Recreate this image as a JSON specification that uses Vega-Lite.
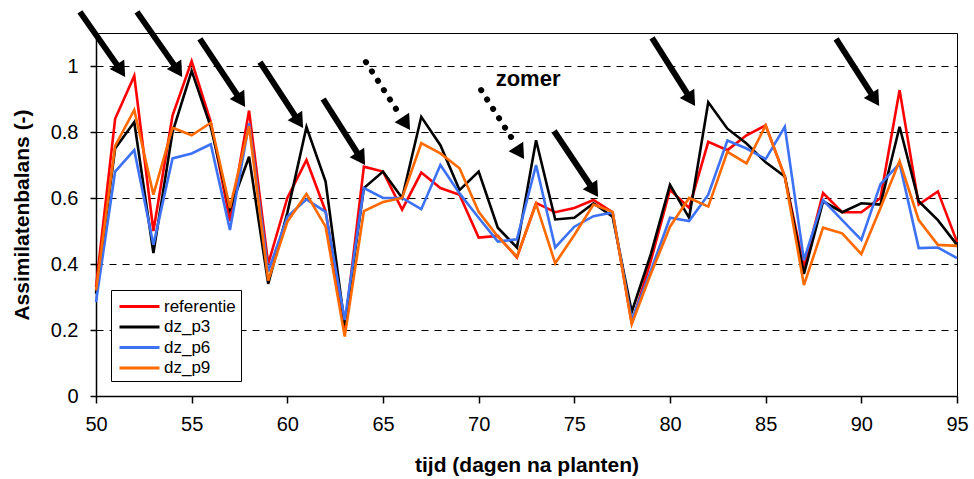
{
  "$schema": "https://vega.github.io/schema/vega-lite/v6.json",
  "width": 861,
  "height": 363,
  "autosize": {"type": "none"},
  "padding": {"left": 96, "top": 33, "right": 17, "bottom": 83},
  "config": {
    "font": "Liberation Sans",
    "view": {"stroke": "#000000", "strokeWidth": 1},
    "axis": {
      "domainColor": "#000000",
      "domainWidth": 1.5,
      "tickColor": "#000000",
      "tickWidth": 1.5,
      "labelColor": "#000000",
      "titleColor": "#000000",
      "labelFont": "Liberation Sans",
      "titleFont": "Liberation Sans",
      "labelFontSize": 20,
      "titleFontSize": 21,
      "titleFontWeight": "bold"
    },
    "legend": {
      "labelFont": "Liberation Sans",
      "labelFontSize": 17,
      "labelColor": "#000000"
    }
  },
  "datasets": {
    "series": [
      {"x": 50, "referentie": 0.33, "dz_p3": 0.31, "dz_p6": 0.285, "dz_p9": 0.32},
      {"x": 51, "referentie": 0.84, "dz_p3": 0.75, "dz_p6": 0.68, "dz_p9": 0.758},
      {"x": 52, "referentie": 0.97, "dz_p3": 0.83, "dz_p6": 0.745, "dz_p9": 0.867},
      {"x": 53, "referentie": 0.5, "dz_p3": 0.433, "dz_p6": 0.458, "dz_p9": 0.61},
      {"x": 54, "referentie": 0.85, "dz_p3": 0.8, "dz_p6": 0.72, "dz_p9": 0.813},
      {"x": 55, "referentie": 1.015, "dz_p3": 0.985, "dz_p6": 0.735, "dz_p9": 0.79},
      {"x": 56, "referentie": 0.83, "dz_p3": 0.815, "dz_p6": 0.763, "dz_p9": 0.828},
      {"x": 57, "referentie": 0.53, "dz_p3": 0.565, "dz_p6": 0.503, "dz_p9": 0.57},
      {"x": 58, "referentie": 0.865, "dz_p3": 0.725, "dz_p6": 0.826, "dz_p9": 0.818},
      {"x": 59, "referentie": 0.4, "dz_p3": 0.34, "dz_p6": 0.377, "dz_p9": 0.35},
      {"x": 60, "referentie": 0.6, "dz_p3": 0.555, "dz_p6": 0.543, "dz_p9": 0.528},
      {"x": 61, "referentie": 0.715, "dz_p3": 0.815, "dz_p6": 0.596, "dz_p9": 0.612},
      {"x": 62, "referentie": 0.56, "dz_p3": 0.65, "dz_p6": 0.558, "dz_p9": 0.513},
      {"x": 63, "referentie": 0.205, "dz_p3": 0.215, "dz_p6": 0.23, "dz_p9": 0.18},
      {"x": 64, "referentie": 0.695, "dz_p3": 0.63, "dz_p6": 0.63, "dz_p9": 0.56},
      {"x": 65, "referentie": 0.68, "dz_p3": 0.68, "dz_p6": 0.6, "dz_p9": 0.588},
      {"x": 66, "referentie": 0.565, "dz_p3": 0.6, "dz_p6": 0.6, "dz_p9": 0.6},
      {"x": 67, "referentie": 0.677, "dz_p3": 0.846, "dz_p6": 0.566, "dz_p9": 0.766},
      {"x": 68, "referentie": 0.63, "dz_p3": 0.76, "dz_p6": 0.7, "dz_p9": 0.735},
      {"x": 69, "referentie": 0.61, "dz_p3": 0.624, "dz_p6": 0.614, "dz_p9": 0.69},
      {"x": 70, "referentie": 0.48, "dz_p3": 0.68, "dz_p6": 0.54, "dz_p9": 0.558},
      {"x": 71, "referentie": 0.485, "dz_p3": 0.51, "dz_p6": 0.468, "dz_p9": 0.483},
      {"x": 72, "referentie": 0.42, "dz_p3": 0.45, "dz_p6": 0.475, "dz_p9": 0.422},
      {"x": 73, "referentie": 0.585, "dz_p3": 0.775, "dz_p6": 0.7, "dz_p9": 0.582},
      {"x": 74, "referentie": 0.557, "dz_p3": 0.535, "dz_p6": 0.45, "dz_p9": 0.402},
      {"x": 75, "referentie": 0.57, "dz_p3": 0.54, "dz_p6": 0.513, "dz_p9": 0.488},
      {"x": 76, "referentie": 0.594, "dz_p3": 0.584, "dz_p6": 0.545, "dz_p9": 0.58},
      {"x": 77, "referentie": 0.557, "dz_p3": 0.543, "dz_p6": 0.556, "dz_p9": 0.558},
      {"x": 78, "referentie": 0.22, "dz_p3": 0.255, "dz_p6": 0.23, "dz_p9": 0.218},
      {"x": 79, "referentie": 0.41, "dz_p3": 0.43, "dz_p6": 0.38, "dz_p9": 0.37},
      {"x": 80, "referentie": 0.625, "dz_p3": 0.64, "dz_p6": 0.54, "dz_p9": 0.513},
      {"x": 81, "referentie": 0.57, "dz_p3": 0.54, "dz_p6": 0.53, "dz_p9": 0.6},
      {"x": 82, "referentie": 0.77, "dz_p3": 0.89, "dz_p6": 0.61, "dz_p9": 0.574},
      {"x": 83, "referentie": 0.745, "dz_p3": 0.81, "dz_p6": 0.774, "dz_p9": 0.74},
      {"x": 84, "referentie": 0.79, "dz_p3": 0.765, "dz_p6": 0.75, "dz_p9": 0.705},
      {"x": 85, "referentie": 0.82, "dz_p3": 0.708, "dz_p6": 0.718, "dz_p9": 0.82},
      {"x": 86, "referentie": 0.665, "dz_p3": 0.665, "dz_p6": 0.816, "dz_p9": 0.665},
      {"x": 87, "referentie": 0.39, "dz_p3": 0.37, "dz_p6": 0.412, "dz_p9": 0.336},
      {"x": 88, "referentie": 0.615, "dz_p3": 0.59, "dz_p6": 0.594, "dz_p9": 0.51},
      {"x": 89, "referentie": 0.557, "dz_p3": 0.557, "dz_p6": 0.533, "dz_p9": 0.493},
      {"x": 90, "referentie": 0.557, "dz_p3": 0.584, "dz_p6": 0.473, "dz_p9": 0.43},
      {"x": 91, "referentie": 0.6, "dz_p3": 0.58, "dz_p6": 0.642, "dz_p9": 0.57},
      {"x": 92, "referentie": 0.927, "dz_p3": 0.816, "dz_p6": 0.705, "dz_p9": 0.712},
      {"x": 93, "referentie": 0.58, "dz_p3": 0.59, "dz_p6": 0.448, "dz_p9": 0.533},
      {"x": 94, "referentie": 0.62, "dz_p3": 0.533, "dz_p6": 0.45, "dz_p9": 0.458},
      {"x": 95, "referentie": 0.467, "dz_p3": 0.458, "dz_p6": 0.418, "dz_p9": 0.455}
    ],
    "solidShafts": [
      {"x": 49.16, "y": 1.164, "x2": 51.31, "y2": 0.986},
      {"x": 52.14, "y": 1.164, "x2": 54.29, "y2": 0.986},
      {"x": 55.43, "y": 1.082, "x2": 57.58, "y2": 0.895},
      {"x": 58.57, "y": 1.012, "x2": 60.61, "y2": 0.831},
      {"x": 61.87, "y": 0.9, "x2": 63.85, "y2": 0.719},
      {"x": 73.94, "y": 0.803, "x2": 76.03, "y2": 0.622},
      {"x": 79.06, "y": 1.085, "x2": 81.1, "y2": 0.898},
      {"x": 88.68, "y": 1.082, "x2": 90.72, "y2": 0.898}
    ],
    "dottedShafts": [
      {"x": 64.11, "y": 1.012, "x2": 65.68, "y2": 0.87},
      {"x": 70.13, "y": 0.927, "x2": 71.69, "y2": 0.785}
    ],
    "heads": [
      {"x": 51.31, "y": 0.986},
      {"x": 54.29, "y": 0.986},
      {"x": 57.58, "y": 0.895},
      {"x": 60.61, "y": 0.831},
      {"x": 63.85, "y": 0.719},
      {"x": 66.2, "y": 0.825},
      {"x": 72.16, "y": 0.737},
      {"x": 76.03, "y": 0.622},
      {"x": 81.1, "y": 0.898},
      {"x": 90.72, "y": 0.898}
    ],
    "labels": [
      {"x": 72.58, "y": 0.939, "label": "zomer"}
    ]
  },
  "encoding": {
    "x": {
      "field": "x",
      "type": "quantitative",
      "scale": {"domain": [50, 95], "nice": false, "zero": false},
      "axis": {
        "title": "tijd (dagen na planten)",
        "values": [50, 55, 60, 65, 70, 75, 80, 85, 90, 95],
        "grid": false,
        "tickSize": 7,
        "labelPadding": 11,
        "titlePadding": 20,
        "labelFlush": false
      }
    },
    "y": {
      "field": "y",
      "type": "quantitative",
      "scale": {"domain": [0, 1.1], "nice": false, "zero": true},
      "axis": {
        "title": "Assimilatenbalans (-)",
        "values": [0, 0.2, 0.4, 0.6, 0.8, 1],
        "format": "~g",
        "grid": true,
        "gridColor": "#000000",
        "gridDash": [7, 6],
        "gridWidth": 1,
        "tickSize": 6,
        "labelPadding": 12,
        "titlePadding": 18
      }
    }
  },
  "layer": [
    {
      "data": {"name": "series"},
      "transform": [
        {"fold": ["referentie", "dz_p3", "dz_p6", "dz_p9"], "as": ["serie", "y"]}
      ],
      "mark": {"type": "line", "strokeWidth": 2.6, "strokeJoin": "miter"},
      "encoding": {
        "color": {
          "field": "serie",
          "type": "nominal",
          "sort": ["referentie", "dz_p3", "dz_p6", "dz_p9"],
          "scale": {
            "domain": ["referentie", "dz_p3", "dz_p6", "dz_p9"],
            "range": ["#FF0000", "#000000", "#3D72F5", "#FF6A00"]
          },
          "legend": {
            "title": null,
            "orient": "bottom-left",
            "offset": 15,
            "strokeColor": "#000000",
            "fillColor": "#FFFFFF",
            "padding": 5,
            "symbolType": "M-0.8,0L3.2,0",
            "symbolSize": 400,
            "symbolStrokeWidth": 3,
            "symbolFillColor": "transparent",
            "rowPadding": 0.5,
            "labelOffset": 25
          }
        }
      }
    },
    {
      "data": {"name": "solidShafts"},
      "mark": {"type": "rule", "color": "#000000", "strokeWidth": 6, "strokeCap": "butt"},
      "encoding": {
        "x2": {"field": "x2"},
        "y2": {"field": "y2"}
      }
    },
    {
      "data": {"name": "dottedShafts"},
      "mark": {"type": "rule", "color": "#000000", "strokeWidth": 6, "strokeCap": "round", "strokeDash": [0.1, 11]},
      "encoding": {
        "x2": {"field": "x2"},
        "y2": {"field": "y2"}
      }
    },
    {
      "data": {"name": "heads"},
      "mark": {"type": "point", "shape": "triangle-down", "filled": true, "size": 300, "angle": 327, "color": "#000000", "opacity": 1},
      "encoding": {}
    },
    {
      "data": {"name": "labels"},
      "mark": {"type": "text", "fontSize": 22, "fontWeight": "bold", "align": "center", "baseline": "alphabetic", "color": "#000000"},
      "encoding": {
        "text": {"field": "label"}
      }
    }
  ]
}
